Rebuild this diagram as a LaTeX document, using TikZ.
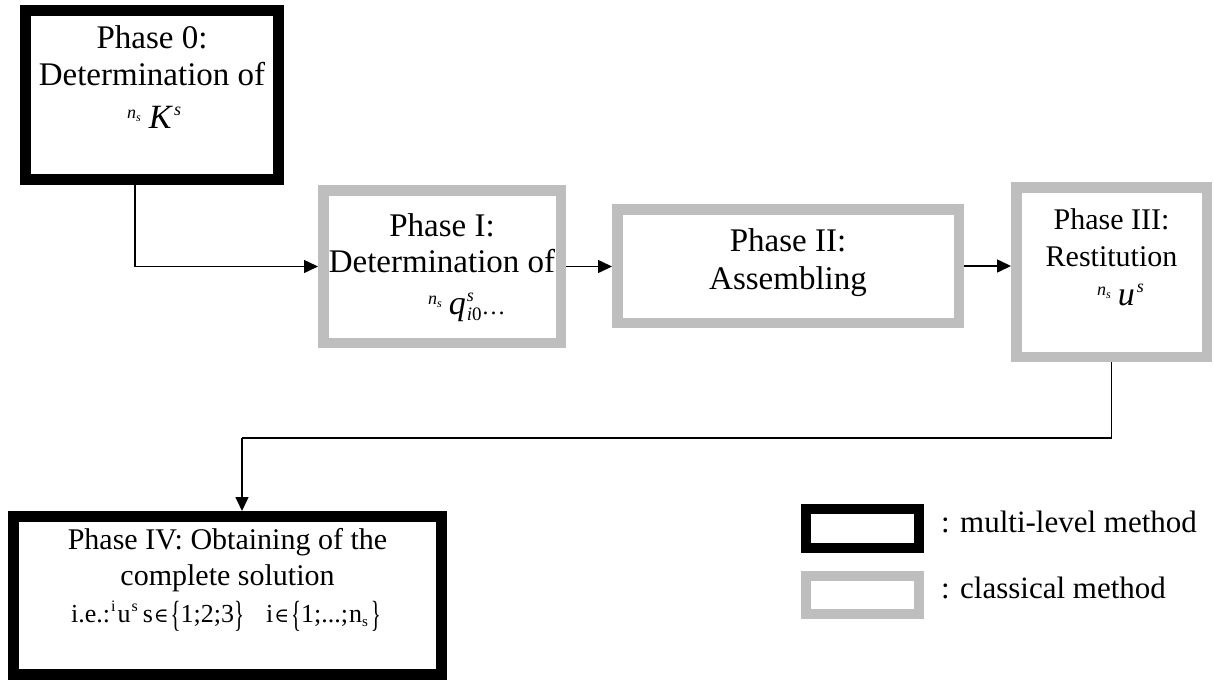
\documentclass[tikz,border=0pt]{standalone}
\usepackage{fontspec}
\setmainfont{Liberation Serif}
\newfontfamily\djv{DejaVu Serif}
\usepackage{graphicx}
\usetikzlibrary{arrows.meta}
\definecolor{boxgray}{RGB}{190,190,190}
\newcommand{\nsup}{\raisebox{10pt}{\fontsize{18}{18}\selectfont\textit{n}\raisebox{-3.5pt}{\fontsize{12}{12}\selectfont\textit{s}}}}
\newcommand{\ssup}[1]{\raisebox{13pt}{\fontsize{18}{18}\selectfont #1}}
\newcommand{\tsup}[1]{\raisebox{11pt}{\fontsize{16}{16}\selectfont #1}}
\newcommand{\mbig}{\fontsize{34}{34}\selectfont}
\newcommand{\tallbrace}[1]{\raisebox{-4pt}{\scalebox{0.8}[1.4]{#1}}}
\newcommand{\elem}{{\djv\fontsize{20}{20}\selectfont ∈}}
\begin{document}
\begin{tikzpicture}[x=1pt,y=-1pt,
  mlbox/.style={draw=black, line width=11pt, fill=white, inner sep=0pt, rectangle},
  clbox/.style={draw=boxgray, line width=10.5pt, fill=white, inner sep=0pt, rectangle},
  txt/.style={anchor=base, inner sep=0pt, font=\fontsize{33}{38}\selectfont},
  txtb/.style={anchor=base, inner sep=0pt, font=\fontsize{30}{36}\selectfont},
  mtxt/.style={anchor=base west, inner sep=0pt, font=\fontsize{33}{38}\selectfont},
  legtxt/.style={anchor=base west, inner sep=0pt, font=\fontsize{31}{36}\selectfont},
  link/.style={line width=1.5pt},
  arr/.style={line width=1.5pt, -{Triangle[length=14pt,width=13pt]}}]
\useasboundingbox (0,0) rectangle (1214,680);

% boxes
\node[mlbox, minimum width=253pt, minimum height=169pt] (p0) at (152,95) {};
\node[clbox, minimum width=237.5pt, minimum height=152.5pt] (p1) at (442,266.5) {};
\node[clbox, minimum width=341.5pt, minimum height=113.5pt] (p2) at (788,266) {};
\node[clbox, minimum width=190.5pt, minimum height=169.5pt] (p3) at (1111.5,272) {};
\node[mlbox, minimum width=428pt, minimum height=158pt] (p4) at (227.5,595.5) {};

% texts
\node[txt] (p0a) at (152,48) {Phase 0:};
\node[txt] (p0b) at (152,85) {Determination of};
\node[mtxt] (p0c) at (127,128) {\nsup\hspace{8pt}{\mbig\textit{K}}\hspace{1pt}\ssup{\textit{s}}};

\node[txt] (p1a) at (442,236) {Phase I:};
\node[txt] (p1b) at (442,272) {Determination of};
\node[mtxt] (p1c) at (428,314) {\nsup\hspace{7pt}{\mbig\textit{q}}\makebox[0pt][l]{\hspace{1pt}\ssup{\textit{s}}}\raisebox{-6pt}{\fontsize{19}{19}\selectfont\hspace{1pt}\textit{i}0}{\fontsize{24}{24}\selectfont\ldots}};

\node[txt] (p2a) at (788,251) {Phase II:};
\node[txt] (p2b) at (788,289) {Assembling};

\node[txtb] (p3a) at (1111.5,229) {Phase III:};
\node[txtb] (p3b) at (1111.5,266) {Restitution};
\node[mtxt] (p3c) at (1097,305) {\nsup\hspace{7pt}{\mbig\textit{u}}\hspace{2pt}\ssup{\textit{s}}};

\node[txtb] (p4a) at (227.5,549) {Phase IV: Obtaining of the};
\node[txtb] (p4b) at (227.5,585) {complete solution};
\node[anchor=base, inner sep=0pt, font=\fontsize{26}{32}\selectfont] (p4c) at (226,622) {i.e.:\hspace{1pt}\tsup{i}\hspace{2pt}u\hspace{1pt}\tsup{s}\hspace{5pt}s\hspace{1pt}\elem\hspace{2pt}\tallbrace{\{}1;2;3\tallbrace{\}}\hspace{22pt}i\hspace{1pt}\elem\hspace{2pt}\tallbrace{\{}1;...;\hspace{1pt}n\raisebox{-4pt}{\fontsize{15}{15}\selectfont s}\hspace{3pt}\tallbrace{\}}};

% legend
\node[mlbox, line width=10pt, minimum width=113pt, minimum height=39pt] (lg1) at (862.5,528.5) {};
\node[clbox, line width=10pt, minimum width=113pt, minimum height=38pt] (lg2) at (862.5,595) {};
\node[legtxt] (lt1) at (941,532) {: multi-level method};
\node[legtxt] (lt2) at (941,598) {: classical method};

% connectors
\coordinate (c0) at (135,0);
\draw[arr] (c0 |- p0.south) |- (p1.west);
\draw[arr] (p1.east) -- (p1.east -| p2.west);
\draw[arr] (p2.east) -- (p2.east -| p3.west);
\coordinate (c1) at (242,438);
\draw[link] (p3.south) |- (c1);
\draw[arr] (c1) -- (c1 |- p4.north);
\end{tikzpicture}
\end{document}
